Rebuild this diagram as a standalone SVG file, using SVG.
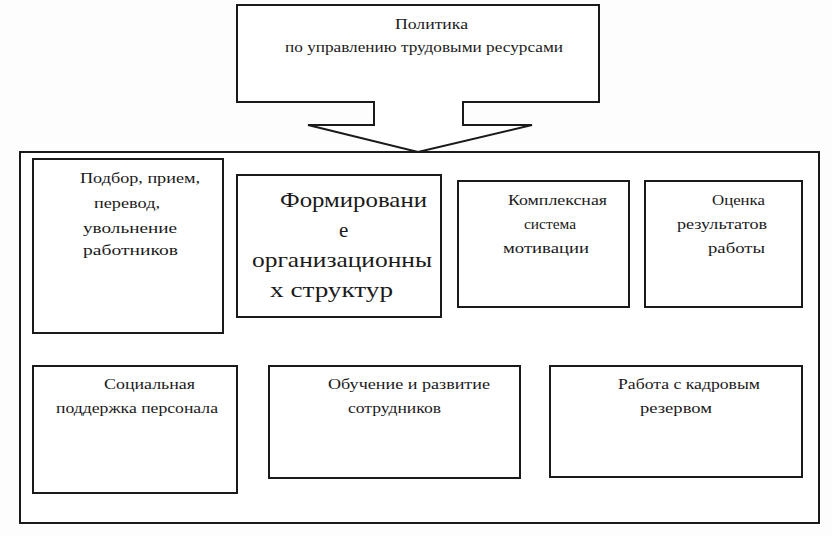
<svg xmlns="http://www.w3.org/2000/svg" width="832" height="536" viewBox="0 0 832 536" font-family="Liberation Serif, Times New Roman, serif">
<style>
.b{fill:#fff;stroke:#1a1a1a;stroke-width:2}
text{font-family:"Liberation Serif","Times New Roman",serif;fill:#1a1a1a}
.t{font-size:15px}
.big{font-size:21px}
</style>
<rect width="832" height="536" fill="#fdfdfd"/>
<g id="outer">
<rect class="b" x="20" y="152" width="799" height="371"/>
</g>
<g id="policy">
<polygon class="b" points="237,5 599,5 599,102 463,102 463,125 532,125 418,152 308,125 374,125 374,102 237,102"/>
<text class="t" x="395" y="29" textLength="73" lengthAdjust="spacingAndGlyphs">Политика</text>
<text class="t" x="285" y="52" textLength="278" lengthAdjust="spacingAndGlyphs">по управлению трудовыми ресурсами</text>
</g>
<g id="n1">
<rect class="b" x="33" y="159" width="190" height="174"/>
<text class="t" x="80" y="183" textLength="120" lengthAdjust="spacingAndGlyphs">Подбор, прием,</text>
<text class="t" x="94" y="208" textLength="66" lengthAdjust="spacingAndGlyphs">перевод,</text>
<text class="t" x="83" y="233" textLength="94" lengthAdjust="spacingAndGlyphs">увольнение</text>
<text class="t" x="83" y="255" textLength="95" lengthAdjust="spacingAndGlyphs">работников</text>
</g>
<g id="n2">
<rect class="b" x="237" y="175" width="204" height="142"/>
<text class="big" x="280" y="207" textLength="147" lengthAdjust="spacingAndGlyphs">Формировани</text>
<text class="big" x="339" y="237">е</text>
<text class="big" x="252" y="267" textLength="180" lengthAdjust="spacingAndGlyphs">организационны</text>
<text class="big" x="270" y="297" textLength="123" lengthAdjust="spacingAndGlyphs">х структур</text>
</g>
<g id="n3">
<rect class="b" x="458" y="181" width="171" height="126"/>
<text class="t" x="508" y="205" textLength="99" lengthAdjust="spacingAndGlyphs">Комплексная</text>
<text class="t" x="524" y="229" textLength="52" lengthAdjust="spacingAndGlyphs">система</text>
<text class="t" x="503" y="253" textLength="86" lengthAdjust="spacingAndGlyphs">мотивации</text>
</g>
<g id="n4">
<rect class="b" x="645" y="181" width="157" height="126"/>
<text class="t" x="712" y="205" textLength="53" lengthAdjust="spacingAndGlyphs">Оценка</text>
<text class="t" x="677" y="229" textLength="90" lengthAdjust="spacingAndGlyphs">результатов</text>
<text class="t" x="708" y="253" textLength="57" lengthAdjust="spacingAndGlyphs">работы</text>
</g>
<g id="n5">
<rect class="b" x="33" y="366" width="204" height="127"/>
<text class="t" x="104" y="389" textLength="91" lengthAdjust="spacingAndGlyphs">Социальная</text>
<text class="t" x="56" y="413" textLength="162" lengthAdjust="spacingAndGlyphs">поддержка персонала</text>
</g>
<g id="n6">
<rect class="b" x="269" y="366" width="251" height="112"/>
<text class="t" x="328" y="389" textLength="162" lengthAdjust="spacingAndGlyphs">Обучение и развитие</text>
<text class="t" x="348" y="413" textLength="93" lengthAdjust="spacingAndGlyphs">сотрудников</text>
</g>
<g id="n7">
<rect class="b" x="550" y="366" width="252" height="111"/>
<text class="t" x="618" y="389" textLength="142" lengthAdjust="spacingAndGlyphs">Работа с кадровым</text>
<text class="t" x="640" y="413" textLength="72" lengthAdjust="spacingAndGlyphs">резервом</text>
</g>
<g id="connectors"></g>
</svg>
